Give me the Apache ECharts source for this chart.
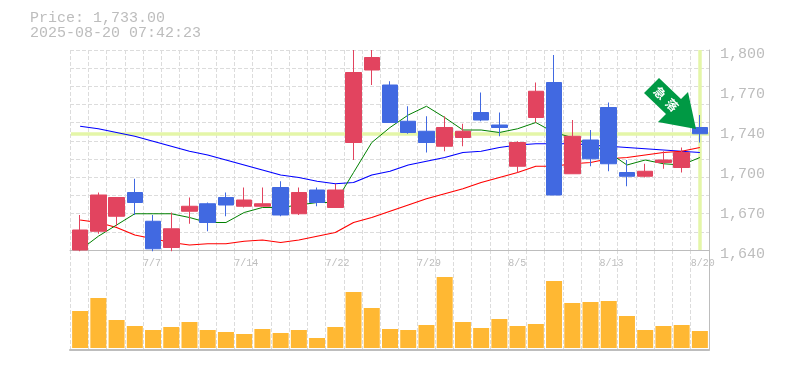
<!DOCTYPE html>
<html><head><meta charset="utf-8">
<script src="https://cdn.jsdelivr.net/npm/echarts@6/dist/echarts.min.js"></script>
<style>html,body{margin:0;padding:0;background:#fff}#c{width:785px;height:370px}</style>
</head><body><div id="c"></div>
<script>
const dates = ['7/1','7/2','7/3','7/4','7/7','7/8','7/9','7/10','7/11','7/14','7/15','7/16','7/17','7/18','7/22','7/23','7/24','7/25','7/28','7/29','7/30','7/31','8/1','8/4','8/5','8/6','8/7','8/8','8/12','8/13','8/14','8/15','8/18','8/19','8/20'];
const labelledDates = ['7/7','7/14','7/22','7/29','8/5','8/13','8/20'];
const priceTicks = ['1,640','1,670','1,700','1,740','1,770','1,800'];
// open, close, low, high
const candles = [
[1640,1656,1639,1668],[1655,1684,1653,1686],[1667,1682,1659,1682],[1686,1678,1668,1697],[1663,1641,1639,1668],
[1642,1657,1639,1670],[1671,1675,1661,1682],[1677,1662,1655,1678],[1682,1676,1667,1686],[1675,1680,1674,1690],
[1675,1677,1675,1690],[1690,1668,1667,1695],[1669,1686,1668,1690],[1688,1678,1675,1690],[1674,1688,1674,1693],
[1726,1782,1712,1800],[1784,1794,1772,1800],[1772,1742,1742,1775],[1743,1734,1733,1755],[1735,1726,1718,1747],
[1723,1738,1719,1747],[1730,1735,1723,1741],[1750,1744,1743,1766],[1740,1738,1731,1750],[1707,1726,1702,1727],
[1746,1767,1742,1774],[1774,1684,1684,1796],[1701,1731,1701,1744],[1728,1713,1707,1736],[1754,1709,1703,1758],
[1702,1699,1691,1712],[1699,1703,1698,1709],[1710,1712,1705,1719],[1706,1718,1702,1722],[1738,1733,1726,1748]];
const maShort = [1640,1651,1660,1669,1669,1669,1666,1662,1662,1670,1674,1674,1676,1678,1678,1702,1726,1738,1748,1755,1746,1736,1736,1734,1737,1742,1734,1730,1724,1718,1708,1712,1709,1708,1714];
const maLong = [1739,1737,1734,1731,1727,1723,1719,1716,1712,1708,1704,1700,1698,1695,1693,1694,1700,1703,1708,1711,1714,1718,1719,1722,1724,1725,1725,1725,1724,1723,1722,1721,1720,1719,1718];
const maMid = [1664,1662,1658,1652,1649,1646,1644,1645,1645,1647,1648,1646,1648,1651,1654,1662,1666,1671,1676,1681,1685,1689,1694,1698,1702,1707,1707,1709,1710,1713,1714,1716,1718,1719,1722];
const volume = [37,50,28,22,18,21,26,18,16,14,19,15,18,10,21,56,40,19,18,23,71,26,20,29,22,24,67,45,46,47,32,18,22,23,17];
const lastPrice = 1733;
const gridRows = ['','','','','','','','','','','',''];
const MONO = '"Liberation Mono", monospace';
const GREY = '#bdbdbd';
const dash = {type:'dashed',color:'#dcdcdc',width:1};
const edges = dates.concat(['']);
const hiddenAxis = {axisLine:{show:false},axisTick:{show:false},axisLabel:{show:false},splitLine:{show:false}};
const chart = echarts.init(document.getElementById('c'),null,{renderer:'canvas'});
chart.setOption({
  animation:false,
  backgroundColor:'#fff',
  title:{text:'Price: 1,733.00\n2025-08-20 07:42:23',left:30,top:11,padding:0,textStyle:{fontFamily:MONO,fontSize:15,fontWeight:'normal',color:GREY,lineHeight:15}},
  grid:[
    {left:71,width:638,top:50,height:200},
    {left:71,width:638,top:250,height:100},
    {left:70,width:639,top:50,height:200},
    {left:70,width:639,top:250,height:100}
  ],
  xAxis:[
    Object.assign({type:'category',gridIndex:0,data:dates,boundaryGap:true},hiddenAxis),
    Object.assign({type:'category',gridIndex:1,data:dates,boundaryGap:true},hiddenAxis),
    {type:'category',gridIndex:2,data:edges,boundaryGap:false,position:'bottom',
      axisLine:{show:true,onZero:false,lineStyle:{color:GREY,width:1}},axisTick:{show:false},
      axisLabel:{show:true,align:'left',margin:8,fontFamily:MONO,fontSize:10,color:GREY,hideOverlap:false,interval:(i,v)=>labelledDates.includes(v)},
      splitLine:{show:true,interval:0,lineStyle:dash}},
    {type:'category',gridIndex:3,data:edges,boundaryGap:false,position:'bottom',
      axisLine:{show:true,onZero:false,lineStyle:{color:GREY,width:2}},axisTick:{show:false},axisLabel:{show:false},
      splitLine:{show:true,interval:0,lineStyle:dash}}
  ],
  yAxis:[
    {type:'value',gridIndex:0,min:1640,max:1800,show:false,scale:true,splitLine:{show:false}},
    {type:'value',gridIndex:1,min:-2,max:98,show:false,splitLine:{show:false}},
    {type:'category',gridIndex:2,data:gridRows,boundaryGap:false,position:'left',axisLine:{show:false},axisTick:{show:false},axisLabel:{show:false},splitLine:{show:true,interval:0,lineStyle:dash}},
    {type:'category',gridIndex:2,data:priceTicks,boundaryGap:false,position:'right',
      axisLine:{show:true,onZero:false,lineStyle:{color:GREY,width:1}},axisTick:{show:false},splitLine:{show:false},
      axisLabel:{show:true,interval:0,margin:11,align:'left',verticalAlign:'top',lineHeight:8,fontFamily:MONO,fontSize:15,color:GREY,showMinLabel:true,showMaxLabel:true,hideOverlap:false}},
    {type:'category',gridIndex:3,data:gridRows,boundaryGap:false,position:'right',axisLine:{show:true,onZero:false,lineStyle:{color:GREY,width:1}},axisTick:{show:false},axisLabel:{show:false},splitLine:{show:false}}
  ],
  series:[
    {type:'line',xAxisIndex:0,yAxisIndex:0,data:[],z:1,silent:true,
      markLine:{silent:true,z:1,symbol:'none',label:{show:false},animation:false,
        lineStyle:{color:'#e4f6a8',width:3.5,type:'solid'},
        data:[{yAxis:lastPrice},{xAxis:dates.length-1}]}},
    {type:'line',xAxisIndex:0,yAxisIndex:0,data:maLong,z:2,symbol:'none',lineStyle:{color:'#0000ff',width:1.2}},
    {type:'line',xAxisIndex:0,yAxisIndex:0,data:maMid,z:2,symbol:'none',lineStyle:{color:'#ff0000',width:1.2}},
    {type:'line',xAxisIndex:0,yAxisIndex:0,data:maShort,z:2,symbol:'none',lineStyle:{color:'#008000',width:1}},
    {type:'candlestick',xAxisIndex:0,yAxisIndex:0,data:candles,z:3,barWidth:16,clip:true,
      itemStyle:{color:'#e2445f',color0:'#4169e1',borderColor:'#e2445f',borderColor0:'#4169e1',borderWidth:1}},
    {type:'bar',xAxisIndex:1,yAxisIndex:1,data:volume,barWidth:16,z:3,itemStyle:{color:'#ffb833'}}
  ],
  graphic:[
    {type:'polygon',z:50,shape:{points:[[659,78],[681,99],[688,92],[696,129],[658,122],[666,114],[644,93]]},style:{fill:'#009944'}},
    {type:'text',z:51,x:660,y:93,rotation:-Math.PI/4,style:{text:'\u6025',fontFamily:'"Noto Sans CJK JP"',fontWeight:'bold',fontSize:12,fill:'#fff',align:'center',verticalAlign:'middle'}},
    {type:'text',z:51,x:672,y:105,rotation:-Math.PI/4,style:{text:'\u843d',fontFamily:'"Noto Sans CJK JP"',fontWeight:'bold',fontSize:12,fill:'#fff',align:'center',verticalAlign:'middle'}}
  ]
});
</script></body></html>
